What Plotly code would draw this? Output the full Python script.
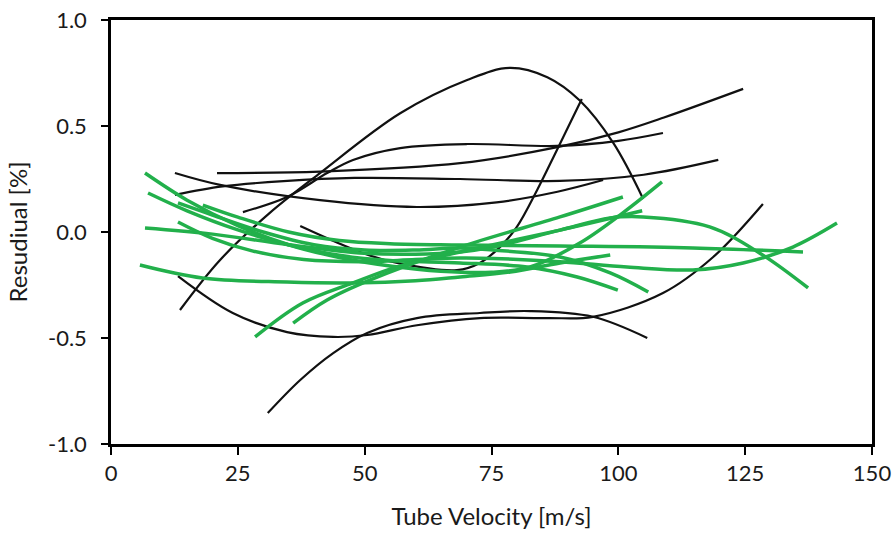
import plotly.graph_objects as go

# ---- black series (velocity [m/s], residual [%]) ----
b1_v = [13.6, 21.5, 31.3, 41.2, 57.0, 70.2, 78.6, 86.0, 92.4, 99.0, 104.9]
b1_r = [-0.368, -0.132, 0.09, 0.278, 0.56, 0.717, 0.774, 0.73, 0.62, 0.42, 0.156]

b2_v = [37.3, 49.7, 56.4, 68.2, 72.7, 76.7, 80.0, 84.0, 87.9, 92.8]
b2_r = [0.028, -0.1, -0.146, -0.18, -0.146, -0.07, 0.024, 0.198, 0.387, 0.627]

b3_v = [12.6, 21.5, 41.2, 60.3, 76.0, 88.0, 97.0]
b3_r = [0.278, 0.222, 0.15, 0.118, 0.14, 0.19, 0.245]

b4_v = [12.6, 22.0, 34.0, 48.0, 68.8, 88.5, 105.0, 119.7]
b4_r = [0.175, 0.215, 0.24, 0.255, 0.25, 0.241, 0.27, 0.34]

b5_v = [20.9, 41.2, 68.8, 88.0, 100.0, 109.0, 124.6]
b5_r = [0.278, 0.285, 0.325, 0.40, 0.47, 0.54, 0.675]

b6_v = [26.0, 34.7, 42.6, 47.7, 57.0, 70.2, 87.9, 100.0, 108.8]
b6_r = [0.094, 0.165, 0.278, 0.34, 0.396, 0.415, 0.406, 0.43, 0.467]

b7_v = [13.2, 24.0, 34.7, 43.8, 50.5, 60.3, 72.7, 86.0, 95.0, 108.8, 118.7, 128.5]
b7_r = [-0.208, -0.382, -0.472, -0.495, -0.486, -0.44, -0.406, -0.406, -0.40, -0.288, -0.118, 0.132]

b8_v = [30.9, 37.3, 43.8, 50.5, 60.3, 72.7, 82.6, 95.0, 105.7]
b8_r = [-0.854, -0.698, -0.571, -0.476, -0.406, -0.382, -0.373, -0.40, -0.5]

# ---- green series ----
g1_v = [6.7, 15, 25, 35, 45, 55, 65, 75, 82.6, 92.4, 100.9, 108.6]
g1_r = [0.278, 0.15, 0.03, -0.06, -0.12, -0.16, -0.185, -0.19, -0.165, -0.052, 0.09, 0.236]

g2_v = [7.3, 15, 25, 35, 45, 55, 68.8, 82, 91.9, 99.9]
g2_r = [0.184, 0.10, 0.01, -0.06, -0.11, -0.135, -0.146, -0.165, -0.212, -0.274]

g3_v = [6.7, 20, 35, 50, 60, 68.8, 75.3, 88.5, 98.4, 104.9, 118, 127.9, 137.4]
g3_r = [0.019, -0.01, -0.06, -0.1, -0.105, -0.094, -0.071, 0.009, 0.066, 0.071, 0.024, -0.1, -0.264]

g4_v = [5.7, 18, 34.7, 47.7, 60, 68.8, 78.7, 88.5, 98.4]
g4_r = [-0.156, -0.217, -0.236, -0.24, -0.23, -0.212, -0.189, -0.146, -0.108]

g5_v = [13.2, 20, 30, 40, 50, 60, 68.8, 75.3, 88.5, 98.4, 105.9]
g5_r = [0.137, 0.08, 0.0, -0.06, -0.085, -0.085, -0.075, -0.085, -0.118, -0.193, -0.283]

g6_v = [13.2, 20, 28, 38, 50, 60, 68.8, 75.3, 88.5, 101.7, 114.7, 124.6, 134.4, 143.1]
g6_r = [0.047, -0.03, -0.09, -0.13, -0.14, -0.13, -0.123, -0.125, -0.14, -0.165, -0.179, -0.146, -0.071, 0.042]

g7_v = [18.1, 25, 35, 45, 55, 68.8, 88.5, 114.7, 136.4]
g7_r = [0.127, 0.07, 0.0, -0.04, -0.055, -0.061, -0.066, -0.075, -0.094]

g8_v = [28.4, 37.8, 47.7, 57, 68.8, 88.5, 104.7]
g8_r = [-0.495, -0.335, -0.24, -0.16, -0.094, 0.009, 0.1]

g9_v = [35.9, 42.6, 51.1, 68.8, 88.5, 100.9]
g9_r = [-0.43, -0.321, -0.226, -0.071, 0.071, 0.165]

black_series = [(b1_v, b1_r), (b2_v, b2_r), (b3_v, b3_r), (b4_v, b4_r),
                (b5_v, b5_r), (b6_v, b6_r), (b7_v, b7_r), (b8_v, b8_r)]
green_series = [(g1_v, g1_r), (g2_v, g2_r), (g3_v, g3_r), (g4_v, g4_r), (g5_v, g5_r),
                (g6_v, g6_r), (g7_v, g7_r), (g8_v, g8_r), (g9_v, g9_r)]

x_ticks = [0, 25, 50, 75, 100, 125, 150]
y_ticks = [-1.0, -0.5, 0.0, 0.5, 1.0]

fig = go.Figure()
for v, r in black_series:
    fig.add_trace(go.Scatter(x=v, y=r, mode="lines",
                             line=dict(color="#111111", width=2.2, shape="spline", smoothing=1.0),
                             showlegend=False, hoverinfo="skip"))
for v, r in green_series:
    fig.add_trace(go.Scatter(x=v, y=r, mode="lines",
                             line=dict(color="#22B04B", width=3.5, shape="spline", smoothing=1.0),
                             showlegend=False, hoverinfo="skip"))

font_family = "Lato, 'Open Sans', sans-serif"
fig.update_layout(
    width=896, height=539,
    margin=dict(l=111, r=24, t=20, b=95),
    paper_bgcolor="white", plot_bgcolor="white",
    font=dict(family=font_family, size=22, color="#1a1a1a"),
    showlegend=False,
)
fig.update_xaxes(
    range=[0, 150], tickvals=x_ticks, ticktext=[str(t) for t in x_ticks],
    showgrid=False, zeroline=False, automargin=False,
    showline=True, linecolor="black", linewidth=2.5, mirror=True,
    ticks="outside", ticklen=8, tickwidth=1.5, tickcolor="black",
    tickfont=dict(size=22),
    title=dict(text="Tube Velocity [m/s]", font=dict(size=24), standoff=24),
)
fig.update_yaxes(
    range=[-1, 1], tickvals=y_ticks, ticktext=[f"{t:.1f}" for t in y_ticks],
    showgrid=False, zeroline=False, automargin=False,
    showline=True, linecolor="black", linewidth=2.5, mirror=True,
    ticks="outside", ticklen=7, tickwidth=1.5, tickcolor="black",
    tickfont=dict(size=22),
    ticklabelstandoff=10,
    title=dict(text="Resudiual [%]", font=dict(size=24), standoff=14),
)

fig.write_html("out.html")
